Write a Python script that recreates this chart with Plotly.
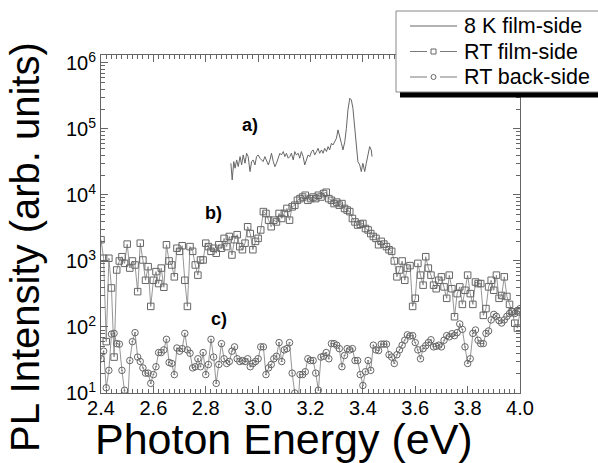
import math
import plotly.graph_objects as go

# ---------------- data ----------------
energy_a = [2.896, 2.901, 2.907, 2.912, 2.918, 2.924, 2.931, 2.937, 2.943, 2.950,
            2.956, 2.962, 2.969, 2.975, 2.981, 2.988, 2.994, 3.000, 3.007, 3.013,
            3.019, 3.026, 3.032, 3.039, 3.045, 3.051, 3.058, 3.064, 3.070, 3.077,
            3.083, 3.089, 3.096, 3.102, 3.108, 3.115, 3.121, 3.127, 3.134, 3.140,
            3.146, 3.153, 3.159, 3.165, 3.172, 3.178, 3.185, 3.191, 3.197, 3.204,
            3.210, 3.216, 3.223, 3.229, 3.235, 3.242, 3.248, 3.254, 3.261, 3.267,
            3.273, 3.280, 3.286, 3.292, 3.299, 3.305, 3.311, 3.318, 3.324, 3.331,
            3.337, 3.343, 3.350, 3.356, 3.362, 3.369, 3.375, 3.381, 3.388, 3.394,
            3.400, 3.407, 3.413, 3.419, 3.426, 3.432, 3.435]
pl_8k_film = [30200, 16900, 32000, 25400, 33900, 26900, 38100, 28500, 40400, 30200,
              42800, 38100, 22600, 32000, 33900, 28500, 38100, 40400, 36000, 33900,
              32000, 38100, 33900, 28500, 33900, 42800, 32000, 26900, 30200, 38100,
              42800, 40400, 45400, 38100, 42800, 36000, 38100, 42800, 33900, 45400,
              40400, 42800, 36000, 45400, 38100, 28500, 33900, 40400, 38100, 45400,
              48100, 40400, 45400, 50900, 42800, 48100, 42800, 50900, 45400, 54000,
              48100, 60700, 57200, 64300, 72300, 96600, 81100, 60700, 48100, 64300,
              102000, 194000, 292000, 275000, 206000, 102000, 45400, 32000, 28500, 22600,
              30200, 22600, 30200, 40400, 54000, 48100, 38100]

energy_rt = [2.40, 2.41, 2.42, 2.43, 2.44, 2.45, 2.46, 2.47, 2.48, 2.49,
             2.50, 2.51, 2.52, 2.53, 2.54, 2.55, 2.56, 2.57, 2.58, 2.59,
             2.60, 2.61, 2.62, 2.63, 2.64, 2.65, 2.66, 2.67, 2.68, 2.69,
             2.70, 2.71, 2.72, 2.73, 2.74, 2.75, 2.76, 2.77, 2.78, 2.79,
             2.80, 2.81, 2.82, 2.83, 2.84, 2.85, 2.86, 2.87, 2.88, 2.89,
             2.90, 2.91, 2.92, 2.93, 2.94, 2.95, 2.96, 2.97, 2.98, 2.99,
             3.00, 3.01, 3.02, 3.03, 3.04, 3.05, 3.06, 3.07, 3.08, 3.09,
             3.10, 3.11, 3.12, 3.13, 3.14, 3.15, 3.16, 3.17, 3.18, 3.19,
             3.20, 3.21, 3.22, 3.23, 3.24, 3.25, 3.26, 3.27, 3.28, 3.29,
             3.30, 3.31, 3.32, 3.33, 3.34, 3.35, 3.36, 3.37, 3.38, 3.39,
             3.40, 3.41, 3.42, 3.43, 3.44, 3.45, 3.46, 3.47, 3.48, 3.49,
             3.50, 3.51, 3.52, 3.53, 3.54, 3.55, 3.56, 3.57, 3.58, 3.59,
             3.60, 3.61, 3.62, 3.63, 3.64, 3.65, 3.66, 3.67, 3.68, 3.69,
             3.70, 3.71, 3.72, 3.73, 3.74, 3.75, 3.76, 3.77, 3.78, 3.79,
             3.80, 3.81, 3.82, 3.83, 3.84, 3.85, 3.86, 3.87, 3.88, 3.89,
             3.90, 3.91, 3.92, 3.93, 3.94, 3.95, 3.96, 3.97, 3.98, 3.99,
             4.00]
pl_rt_film = [2100, 1100, 60, 1100, 390, 35, 730, 1000, 1160, 920,
              1800, 780, 1000, 870, 343, 1860, 1035, 510, 820, 205,
              510, 690, 455, 780, 400, 1760, 1000, 870, 575, 1560,
              1400, 1700, 510, 205, 1650, 1400, 870, 610, 1035, 1035,
              1860, 1650, 1400, 1560, 1310, 1760, 1560, 2200, 1650, 2350,
              1230, 2100, 2500, 1650, 1480, 1860, 3300, 2600, 1480, 1980,
              2200, 2950, 5600, 5250, 4150, 3300, 4150, 3900, 5250, 4400,
              5250, 6250, 4150, 6600, 7000, 8300, 8800, 9300, 9900, 8300,
              8800, 9300, 8800, 9900, 9300, 10500, 11000, 8800, 8300, 7400,
              7800, 7000, 7400, 6250, 5900, 5600, 4400, 3900, 3500, 3600,
              3700, 3100, 2950, 2600, 2350, 2200, 1760, 1980, 1800, 1650,
              1480, 1400, 1000, 575, 730, 1000, 510, 780, 850, 205,
              272, 920, 610, 430, 1160, 780, 610, 430, 380, 510,
              575, 405, 272, 610, 380, 143, 320, 405, 220, 360,
              610, 320, 220, 480, 455, 455, 150, 190, 405, 510,
              360, 610, 272, 300, 575, 290, 220, 170, 114, 96,
              170]
pl_rt_back = [33, 43, 12, 22, 78, 80, 56, 55, 22, 11,
              5, 31, 60, 82, 35, 30, 24, 20, 20, 14,
              19, 25, 41, 41, 45, 65, 29, 28, 19, 48,
              43, 47, 80, 45, 40, 24, 25, 33, 25, 41,
              19, 27, 65, 35, 14, 27, 56, 33, 28, 30,
              43, 50, 33, 30, 31, 30, 33, 25, 28, 30,
              33, 50, 50, 19, 24, 27, 33, 36, 58, 30,
              45, 47, 58, 20, 10, 5, 19, 19, 21, 33,
              31, 31, 20, 11, 35, 36, 41, 33, 56, 56,
              53, 47, 25, 37, 47, 45, 47, 31, 31, 19,
              13, 21, 31, 22, 53, 45, 44, 55, 55, 55,
              38, 35, 28, 38, 45, 53, 63, 76, 73, 74,
              58, 45, 33, 47, 52, 58, 64, 50, 51, 53,
              50, 63, 74, 71, 79, 74, 82, 111, 92, 50,
              28, 33, 80, 90, 63, 56, 56, 80, 87, 128,
              155, 145, 125, 115, 128, 145, 160, 170, 160, 178,
              190]

series_names = ["8 K film-side", "RT film-side", "RT back-side"]
curve_labels = ["a)", "b)", "c)"]
label_x = [2.969, 2.828, 2.851]
label_y = [1.15e5, 5300, 132]

y_tickvals = [10, 100, 1000, 10000, 100000, 1000000]
y_ticktext = ["10<sup>1</sup>", "10<sup>2</sup>", "10<sup>3</sup>",
              "10<sup>4</sup>", "10<sup>5</sup>", "10<sup>6</sup>"]
x_tickvals = [2.4, 2.6, 2.8, 3.0, 3.2, 3.4, 3.6, 3.8, 4.0]
x_ticktext = ["2.4", "2.6", "2.8", "3.0", "3.2", "3.4", "3.6", "3.8", "4.0"]
x_title = "Photon Energy (eV)"
y_title = "PL Intensity (arb. units)"

# ---------------- layout geometry (pixels) ----------------
W, H = 598, 463
L, R, T, B = 101, 78, 55, 70
pw, ph = W - L - R, H - T - B


def px(x):
    return (x - L) / pw


def py(y):
    return (H - B - y) / ph


FONT = "Liberation Sans, Arial, sans-serif"
GRAY = "#666666"
LGRAY = "#7a7a7a"

fig = go.Figure()
fig.add_trace(go.Scatter(
    x=energy_a, y=pl_8k_film, name=series_names[0], mode="lines",
    line=dict(color=GRAY, width=1), showlegend=False))
fig.add_trace(go.Scatter(
    x=energy_rt, y=pl_rt_film, name=series_names[1], mode="lines+markers",
    line=dict(color=LGRAY, width=0.8), showlegend=False,
    marker=dict(symbol="square-open", size=6.5, color=GRAY, line=dict(width=1, color=GRAY))))
fig.add_trace(go.Scatter(
    x=energy_rt, y=pl_rt_back, name=series_names[2], mode="lines+markers",
    line=dict(color=LGRAY, width=0.8), showlegend=False,
    marker=dict(symbol="circle-open-dot", size=6.5, color=GRAY, line=dict(width=1, color=GRAY))))

for t, xx, yy in zip(curve_labels, label_x, label_y):
    fig.add_annotation(x=xx, y=math.log10(yy), yref="y", xref="x", text="<b>" + t + "</b>",
                       showarrow=False, font=dict(size=18, color="black", family=FONT))

# axis titles placed as in the reference
fig.add_annotation(x=px(284), y=py(439), xref="paper", yref="paper", text=x_title,
                   showarrow=False, xanchor="center", yanchor="middle",
                   font=dict(size=43, color="black", family=FONT))
fig.add_annotation(x=px(25), y=py(247), xref="paper", yref="paper", text=y_title,
                   showarrow=False, xanchor="center", yanchor="middle", textangle=-90,
                   font=dict(size=40, color="black", family=FONT))

# ---------------- legend box (drawn) ----------------
fig.add_shape(type="rect", xref="paper", yref="paper", layer="above",
              x0=px(400), x1=px(640), y0=py(97.5), y1=py(88),
              fillcolor="black", line=dict(width=0))
fig.add_shape(type="rect", xref="paper", yref="paper", layer="above",
              x0=px(396), x1=px(640), y0=py(92), y1=py(11),
              fillcolor="white", line=dict(width=1, color="#888"))

row_y = [26, 51.5, 77]
for i, (name, ry) in enumerate(zip(series_names, row_y)):
    if i == 0:
        fig.add_shape(type="line", xref="paper", yref="paper", layer="above",
                      x0=px(410), x1=px(457), y0=py(ry), y1=py(ry),
                      line=dict(color=GRAY, width=1))
    else:
        fig.add_shape(type="line", xref="paper", yref="paper", layer="above",
                      x0=px(410), x1=px(427), y0=py(ry), y1=py(ry),
                      line=dict(color=LGRAY, width=1))
        fig.add_shape(type="line", xref="paper", yref="paper", layer="above",
                      x0=px(440), x1=px(457), y0=py(ry), y1=py(ry),
                      line=dict(color=LGRAY, width=1))
        kind = "rect" if i == 1 else "circle"
        fig.add_shape(type=kind, xref="paper", yref="paper", layer="above",
                      x0=px(431), x1=px(436), y0=py(ry + 2.5), y1=py(ry - 2.5),
                      fillcolor="white", line=dict(color=GRAY, width=1))
    fig.add_annotation(x=px(462), y=py(ry), xref="paper", yref="paper", text=name,
                       showarrow=False, xanchor="left", yanchor="middle",
                       font=dict(size=21.5, color="black", family=FONT))

axis_common = dict(showline=True, linecolor=GRAY, linewidth=1, mirror="ticks",
                   ticks="inside", ticklen=7, tickcolor=GRAY, showgrid=False,
                   zeroline=False,
                   tickfont=dict(size=20, color="black", family=FONT))

fig.update_xaxes(range=[2.4, 4.0], tickvals=x_tickvals, ticktext=x_ticktext,
                 ticklabelstandoff=-3,
                 minor=dict(ticks="inside", ticklen=4, dtick=0.02, tickcolor=GRAY, showgrid=False),
                 **axis_common)
fig.update_yaxes(type="log", range=[1, 6.12], tickvals=y_tickvals, ticktext=y_ticktext,
                 minor=dict(ticks="inside", ticklen=4, dtick="D1", tickcolor=GRAY, showgrid=False),
                 **axis_common)

fig.update_layout(
    width=W, height=H,
    margin=dict(l=L, r=R, t=T, b=B, autoexpand=False),
    paper_bgcolor="white", plot_bgcolor="white",
    font=dict(family=FONT, color="black"),
    showlegend=False,
)

fig.write_html("out.html", config={"displayModeBar": False},
               post_script="document.body.style.margin='0';document.body.style.padding='0';")
